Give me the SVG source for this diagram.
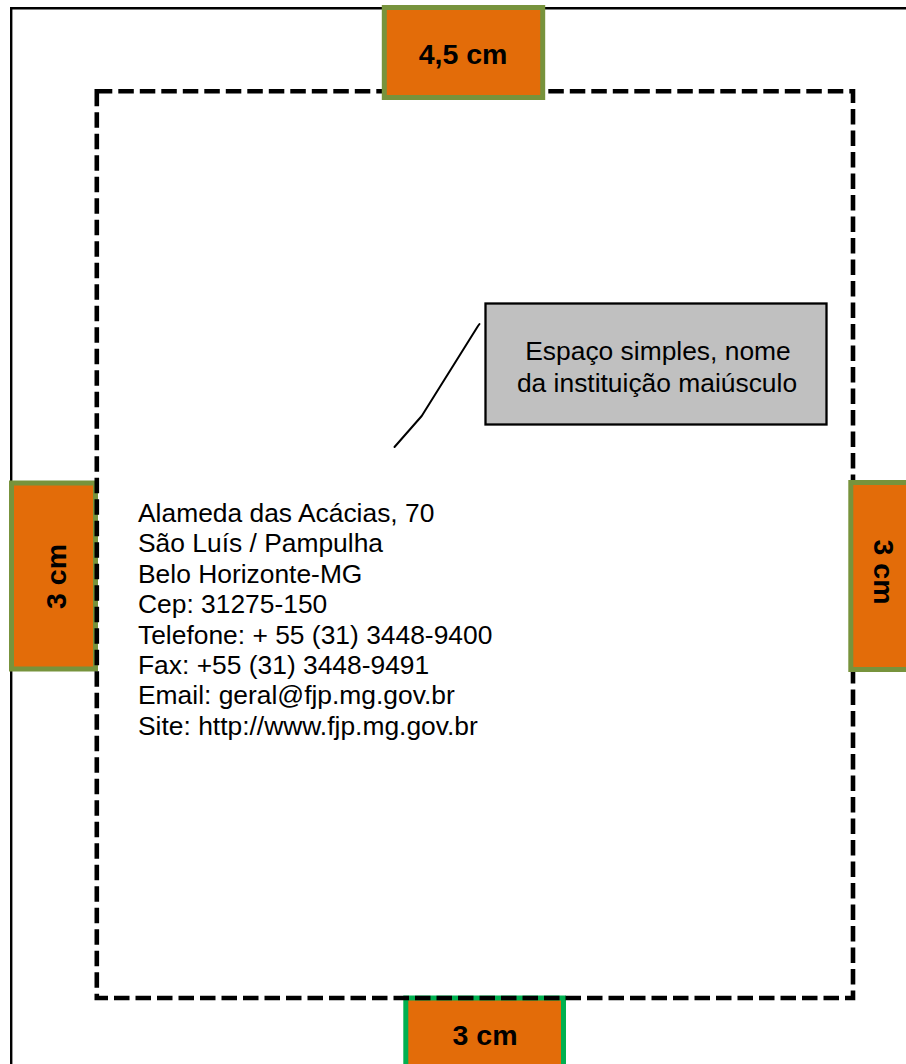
<svg xmlns="http://www.w3.org/2000/svg" width="906" height="1064" viewBox="0 0 906 1064">
  <style>
    .page { fill: none; stroke: #000; stroke-width: 2.4; }
    .margin { fill: none; stroke: #000; stroke-width: 4.6; stroke-dasharray: 15.5 6; }
    .tag { fill: #E36C09; stroke: #77933C; stroke-width: 5; }
    .tag-alt { fill: #E36C09; stroke: #00B050; stroke-width: 5; }
    .tag-text { font-family: "Liberation Sans", Arial, sans-serif; font-weight: bold; font-size: 28.5px; fill: #000; text-anchor: middle; }
    .note { fill: #C0C0C0; stroke: #000; stroke-width: 2.3; }
    .body { font-family: "Liberation Sans", Arial, sans-serif; font-size: 26.4px; fill: #000; }
    .leader { fill: none; stroke: #000; stroke-width: 2; stroke-linejoin: round; stroke-linecap: round; }
  </style>

  <rect width="906" height="1064" fill="#fff"/>

  <!-- sheet edge -->
  <g id="sheet">
    <path class="page" d="M11.2 1070 V8.3 H912"/>
  </g>

  <!-- left margin tag -->
  <g id="margin-left">
    <rect class="tag" x="11.5" y="483" width="84" height="186"/>
    <text class="tag-text" transform="translate(65.5 576.5) rotate(-90)">3 cm</text>
  </g>

  <!-- bottom margin tag -->
  <g id="margin-bottom">
    <rect class="tag-alt" x="405.8" y="998" width="157.7" height="100"/>
    <text class="tag-text" x="485" y="1045">3 cm</text>
  </g>

  <!-- printable area -->
  <g id="text-area">
    <rect class="margin" x="96.8" y="91.2" width="756.2" height="906.8"/>
  </g>

  <!-- top margin tag -->
  <g id="margin-top">
    <rect class="tag" x="384.3" y="7.5" width="158.4" height="90"/>
    <text class="tag-text" x="463" y="64">4,5 cm</text>
  </g>

  <!-- right margin tag -->
  <g id="margin-right">
    <rect class="tag" x="850.8" y="482.5" width="70" height="187"/>
    <text class="tag-text" transform="translate(873.5 572) rotate(90)">3 cm</text>
  </g>

  <!-- callout note -->
  <g id="note">
    <rect class="note" x="485.5" y="303.5" width="341" height="121"/>
    <text class="body" x="658" y="359.5" text-anchor="middle">Espaço simples, nome</text>
    <text class="body" x="657" y="391.5" text-anchor="middle">da instituição maiúsculo</text>
  </g>

  <!-- address block -->
  <g id="address" class="body">
    <text x="138" y="522">Alameda das Acácias, 70</text>
    <text x="138" y="552.4">São Luís / Pampulha</text>
    <text x="138" y="582.8">Belo Horizonte-MG</text>
    <text x="138" y="613.2">Cep: 31275-150</text>
    <text x="138" y="643.6">Telefone: + 55 (31) 3448-9400</text>
    <text x="138" y="674">Fax: +55 (31) 3448-9491</text>
    <text x="138" y="704.4">Email: geral@fjp.mg.gov.br</text>
    <text x="138" y="734.8">Site: http://www.fjp.mg.gov.br</text>
  </g>

  <!-- leader from note to address -->
  <g id="connectors">
    <polyline class="leader" points="479.5,324 478,326 421.7,416 394.5,447"/>
  </g>
</svg>
